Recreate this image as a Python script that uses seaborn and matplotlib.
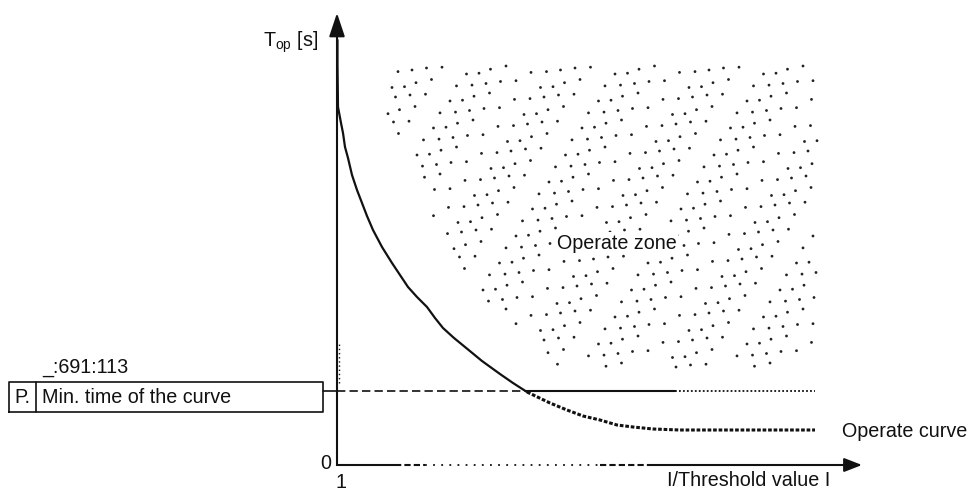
import numpy as np
import pandas as pd
import matplotlib
matplotlib.use("Agg")
import matplotlib.pyplot as plt
from matplotlib.path import Path
import seaborn as sns

# ---------------- data (schematic units: x = I/threshold, y = time [s]) -------------
curve_x = [1.005, 1.005, 1.01, 1.04, 1.06, 1.08, 1.11, 1.15, 1.20, 1.25, 1.30, 1.36,
           1.45, 1.55, 1.63, 1.71, 1.80, 1.90, 1.98, 2.06, 2.17, 2.28, 2.45, 2.63,
           2.76, 2.90, 3.13, 3.30, 3.46, 3.63, 3.80, 3.96, 4.16, 4.43, 5.78]
curve_t = [4.26, 4.01, 3.59, 3.43, 3.33, 3.19, 3.08, 2.91, 2.76, 2.63, 2.50, 2.36,
           2.19, 2.03, 1.91, 1.79, 1.69, 1.59, 1.48, 1.38, 1.28, 1.19, 1.05, 0.92,
           0.83, 0.74, 0.63, 0.56, 0.50, 0.46, 0.41, 0.39, 0.37, 0.36, 0.36]
min_time = 0.75          # "Min. time of the curve"
cross_x = 2.89           # where curve meets the min-time line
solid_end_x = 4.38
line_end_x = 5.78
zone_x = [1.47, 5.81, 5.81, 3.08, 2.93, 2.53, 2.31, 2.18, 1.98, 1.88, 1.68, 1.55, 1.46, 1.46]
zone_y = [4.00, 4.00, 0.98, 0.98, 1.31, 1.61, 1.91, 2.14, 2.31, 2.66, 3.09, 3.31, 3.56, 4.00]
param_id = "_:691:113"
param_label = "Min. time of the curve"
y_label = "T$_\\mathregular{op}$ [s]"
x_label = "I/Threshold value I"

# ---------------- figure ----------------
sns.set_theme(style="white")
plt.rcParams["font.family"] = ["Liberation Sans", "DejaVu Sans"]
plt.rcParams["mathtext.default"] = "regular"

fig = plt.figure(figsize=(9.68, 4.90), dpi=100)
ax = fig.add_axes([0, 0, 1, 1])
ax.set_xlim(1 - 337 / 100, 1 + (968 - 337) / 100)
ax.set_ylim(-24 / 100, 466 / 100)
ax.axis("off")

FS = 14.2
K = "#111111"

# operate zone stipple
zone = Path(np.column_stack([zone_x, zone_y]))
jit = [0.0, 0.035, -0.04, 0.05, -0.02, 0.025, -0.05, 0.01, -0.03]
pts = []
for j, yy in enumerate(np.arange(0.99, 4.05, 0.135)):
    for i, xx in enumerate(np.arange(1.42, 5.90, 0.165)):
        ox = 0.08 if j % 2 else 0.0
        px = xx + ox + jit[(i * 4 + j * 7) % 9]
        py = yy + jit[(i * 5 + j * 2) % 9] * 0.8
        if zone.contains_point((px, py)):
            pts.append((px, py))
pts = pd.DataFrame(pts, columns=["x", "y"])
sns.scatterplot(data=pts, x="x", y="y", ax=ax, s=4, color="#222222",
                edgecolor="none", legend=False)

ax.text(3.20, 2.23, "Operate zone", fontsize=FS, color=K, va="center", ha="left",
        bbox=dict(facecolor="white", edgecolor="none", pad=1))

# axes arrows
ax.plot([1, 1], [0, 4.3], color=K, lw=1.5, solid_capstyle="butt")
ax.annotate("", xy=(1, 4.53), xytext=(1, 4.28),
            arrowprops=dict(arrowstyle="-|>,head_length=1.2,head_width=0.4",
                            color=K, lw=1.5, shrinkA=0, shrinkB=0))
ax.plot([1, 1.58], [0.01, 0.01], color=K, lw=1.5)
ax.plot([1.58, 1.88], [0.01, 0.01], color=K, lw=1.5, dashes=(3, 1.5))
ax.plot([1.88, 3.63], [0.01, 0.01], color=K, lw=1.3, dashes=(1, 3.5))
ax.plot([3.63, 4.16], [0.01, 0.01], color=K, lw=1.5, dashes=(3, 1.5))
ax.plot([4.16, 6.10], [0.01, 0.01], color=K, lw=1.5)
ax.annotate("", xy=(6.25, 0.01), xytext=(6.07, 0.01),
            arrowprops=dict(arrowstyle="-|>,head_length=0.9,head_width=0.35",
                            color=K, lw=1.5, shrinkA=0, shrinkB=0))
ax.plot([1.02, 1.02], [0.83, 1.24], color=K, lw=1.0, dashes=(1, 2))

# operate curve
cdf = pd.DataFrame({"x": curve_x, "t": curve_t})
solid = cdf[cdf.x <= 2.90]
dotted = cdf[cdf.x >= 2.90]
sns.lineplot(data=solid, x="x", y="t", ax=ax, color=K, lw=1.6, sort=False,
             estimator=None)
sns.lineplot(data=dotted, x="x", y="t", ax=ax, color=K, lw=2.2, sort=False,
             estimator=None, dashes=False)
ax.lines[-1].set_dashes((1.2, 0.6))

# min time line
ax.plot([1, cross_x], [min_time, min_time], color=K, lw=1.2, dashes=(5, 2.5))
ax.plot([cross_x, solid_end_x], [min_time, min_time], color=K, lw=1.5)
ax.plot([solid_end_x, line_end_x], [min_time, min_time], color=K, lw=1.3,
        dashes=(1, 1.2))

# parameter box
ax.plot([-2.28, 0.86, 0.86, -2.28, -2.28], [0.54, 0.54, 0.84, 0.84, 0.54],
        color=K, lw=1.2)
ax.plot([-2.01, -2.01], [0.54, 0.84], color=K, lw=1.2)
ax.plot([0.86, 1.0], [min_time, min_time], color=K, lw=1.2)
ax.text(-2.145, 0.69, "P.", fontsize=FS, color=K, ha="center", va="center")
ax.text(-1.95, 0.69, param_label, fontsize=FS, color=K, ha="left", va="center")
ax.text(-1.95, 0.99, param_id, fontsize=FS, color=K, ha="left", va="center")

# labels
ax.text(0.81, 4.24, y_label, fontsize=FS, color=K, ha="right", va="center")
ax.text(0.94, 0.03, "0", fontsize=FS, color=K, ha="right", va="center")
ax.text(1.04, -0.16, "1", fontsize=FS, color=K, ha="center", va="center")
ax.text(4.30, -0.14, x_label, fontsize=FS, color=K, ha="left", va="center")
ax.text(6.05, 0.35, "Operate curve", fontsize=FS, color=K, ha="left", va="center")

fig.savefig("out.png", dpi=100)
